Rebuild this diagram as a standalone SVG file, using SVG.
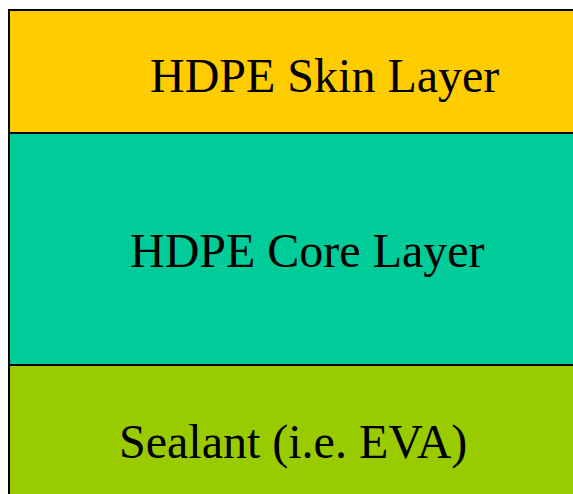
<svg xmlns="http://www.w3.org/2000/svg" width="573" height="494" viewBox="0 0 573 494">
<style>
.lyr{stroke:#000;stroke-width:2}
.t{font-family:"Liberation Serif","Times New Roman",serif;font-size:48px;fill:#000}
</style>
<rect width="573" height="494" fill="#fff"/>
<g id="skin"><rect class="lyr" x="9" y="10" width="580" height="123" fill="#FFCC00"/><text class="t" x="150" y="92">HDPE Skin Layer</text></g>
<g id="core"><rect class="lyr" x="9" y="133" width="580" height="232" fill="#00CC99"/><text class="t" x="130" y="267">HDPE Core Layer</text></g>
<g id="sealant"><rect class="lyr" x="9" y="365" width="580" height="140" fill="#99CC00"/><text class="t" x="119" y="458">Sealant (i.e. EVA)</text></g>
</svg>
